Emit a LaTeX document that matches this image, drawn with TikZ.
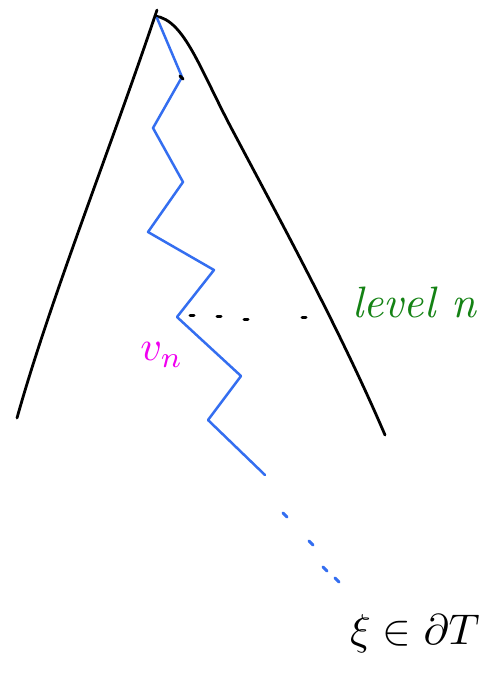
\documentclass[tikz,border=0pt]{standalone}
\usepackage{graphicx}
\usepackage{tikz}
\usetikzlibrary{positioning, calc}
\usepackage{amsmath, amssymb}
\definecolor{pathblue}{RGB}{52, 110, 240}
\definecolor{levelgreen}{RGB}{20, 130, 20}
\definecolor{vmagenta}{RGB}{240, 0, 240}

\begin{document}
\begin{tikzpicture}[x=1pt, y=-1pt,
  treeline/.style={draw=black, line width=2.8pt, line cap=round, line join=round},
  rayline/.style={draw=pathblue, line width=2.5pt, line cap=round, line join=round},
  hdot/.style={draw=black, line width=3pt, line cap=round},
  bdot/.style={draw=pathblue, line width=3pt, line cap=round},
  lbl/.style={inner sep=0pt}
]
  \useasboundingbox (0,0) rectangle (495,683);
  % the tree
  \coordinate (apex) at (157,10);
  \coordinate (lfoot) at (17,418);
  \coordinate (rfoot) at (385,435);
  \draw[treeline] (apex) .. controls (110,150) and (50,300) .. (lfoot);
  \draw[treeline] (155,16) .. controls (185,20) and (200,70) .. (235,135)
    .. controls (280,220) and (340,330) .. (rfoot);
  % the ray
  \draw[rayline] (157,18) -- (182,77) -- (153,128) -- (183,182) -- (148,232)
    -- (214,270) -- (177,317) -- (241,376) -- (208,420) -- (265,475);
  \draw[hdot] (180,76) -- (183,79);
  \foreach \a/\b in {283/513, 309/541, 323/567, 335/578}
    \draw[bdot] (\a,\b) -- ++(4,4);
  % level n
  \foreach \a/\b in {190/315, 217/316, 244/319, 302/317}
    \draw[hdot] (\a,\b) -- ++(4,0);
  \node[lbl, text=levelgreen, anchor=west] (level) at (352,302)
    {\scalebox{4.4}{\itshape level n}};
  \node[lbl, text=vmagenta] (vn) at (162,355) {\scalebox{4.2}{$v_n$}};
  \node[lbl] (xi) at (415,634) {\scalebox{4.3}{$\xi\in\partial T$}};
\end{tikzpicture}
\end{document}
